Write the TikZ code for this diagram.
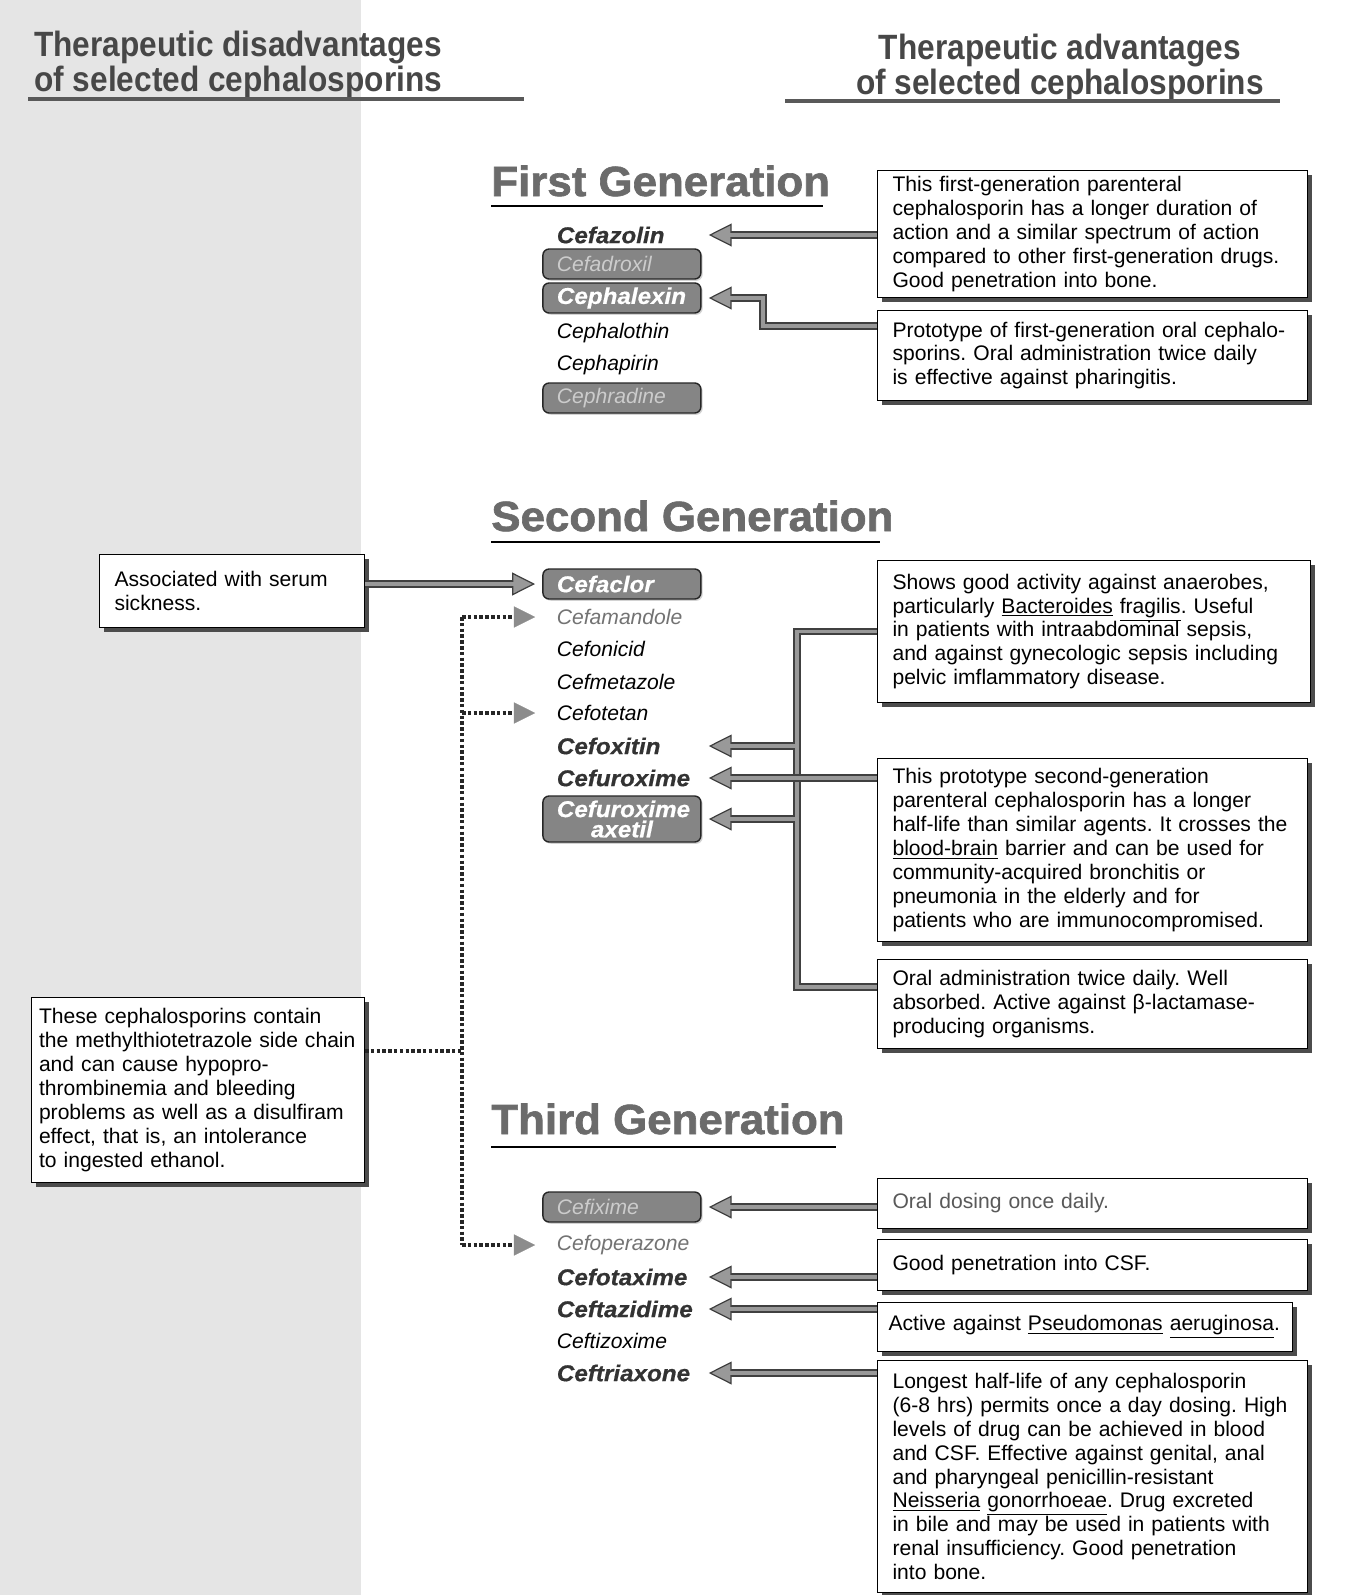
\documentclass[tikz,border=0pt]{standalone}
\usepackage{fontspec}
\setmainfont{Liberation Sans}
\newfontfamily\headfont[FakeStretch=0.9]{Liberation Sans}
\newfontfamily\genfont[FakeStretch=1.04,FakeBold=1.5]{Liberation Sans}
\newfontfamily\heavyfont[FakeStretch=1.06,FakeBold=0.6]{Liberation Sans}
\usetikzlibrary{arrows.meta,shadows}

\newcommand{\notefont}{\fontsize{12}{13.6}\selectfont\frenchspacing}
\newcommand{\drugplain}{\fontsize{12}{13}\selectfont\itshape}
\newcommand{\heavyitalic}{\heavyfont\bfseries\itshape\fontsize{13}{11.5}\selectfont}

\begin{document}
\begin{tikzpicture}[x=0.02cm,y=-0.02cm,
  note/.style={draw=black, line width=0.6pt, fill=white, anchor=north west, align=left,
    inner xsep=0.3cm, inner ysep=2pt, font=\notefont,
    drop shadow={shadow xshift=2.5pt,shadow yshift=-2.5pt,fill=black!70,opacity=1}},
  drug/.style={anchor=west, minimum width=3.16cm, minimum height=0.6cm, text width=2.6cm,
    inner xsep=0.28cm, inner ysep=1pt, outer xsep=4.5pt, align=left, font=\drugplain},
  drugheavy/.style={drug, font=\heavyitalic, text=black!80},
  druggray/.style={drug, text=black!55},
  drugbox/.style={drug, draw=black!85, fill=black!48, line width=0.8pt, rounded corners=3.5pt,
    drop shadow={shadow xshift=1pt,shadow yshift=-1pt,opacity=0.35}},
  drugboxlit/.style={drugbox, text=black!20},
  drugboxwhite/.style={drugbox, font=\heavyitalic, text=white},
  fatarrow/.style={draw=black!75, line width=4.5pt,
    -{Triangle[length=13pt,width=13pt,line width=0.7pt,fill=black!40]},
    postaction={draw=black!40, line width=2.2pt, -, shorten >=12pt}},
  fatline/.style={draw=black!75, line width=4.5pt, postaction={draw=black!40, line width=2.2pt}},
  dotbus/.style={draw=black!85, line width=2.6pt, dash pattern=on 2pt off 1.3pt},
  dotarrow/.style={dotbus, -{Triangle[length=12pt,width=12pt,line width=0.1pt,color=black!45]}},
  genhead/.style={anchor=base west, inner sep=0pt, text=black!58,
    font=\genfont\bfseries\fontsize{24}{24}\selectfont},
  colhead/.style={inner sep=0pt, text=black!72, font=\headfont\bfseries\fontsize{20}{17.5}\selectfont}
]
\useasboundingbox (0,0) rectangle (1348,1595);
\fill[white] (0,0) rectangle (1348,1595);
\fill[black!10] (0,0) rectangle (361,1595);

% column headings
\node[colhead, anchor=north west, align=left] (disadv) at (34,31)
  {Therapeutic disadvantages\\of selected cephalosporins};
\node[colhead, anchor=north, align=center] (adv) at (1060,34)
  {Therapeutic advantages\\of selected cephalosporins};
\draw[black!65, line width=2.6pt] (28,99) -- (524,99);
\draw[black!65, line width=2.6pt] (785,101) -- (1280,101);

% generations
\node[genhead] (gen1) at (491,196) {First Generation};
\draw[black, line width=1pt] (491,206) -- (823,206);
\node[genhead] (gen2) at (491,531) {Second Generation};
\draw[black, line width=1pt] (491,542) -- (880,542);
\node[genhead] (gen3) at (491,1134) {Third Generation};
\draw[black, line width=1pt] (491,1147) -- (836,1147);

% first generation drugs
\node[drugheavy] (cefazolin) at (535,235) {Cefazolin};
\node[drugboxlit] (cefadroxil) at (535,264) {Cefadroxil};
\node[drugboxwhite] (cephalexin) at (535,298) {Cephalexin};
\node[drug] (cephalothin) at (535,333) {Cephalothin};
\node[drug] (cephapirin) at (535,365) {Cephapirin};
\node[drugboxlit] (cephradine) at (535,398) {Cephradine};

% second generation drugs
\node[drugboxwhite] (cefaclor) at (535,584) {Cefaclor};
\node[druggray] (cefamandole) at (535,617) {Cefamandole};
\node[drug] (cefonicid) at (535,649) {Cefonicid};
\node[drug] (cefmetazole) at (535,682) {Cefmetazole};
\node[drug] (cefotetan) at (535,713) {Cefotetan};
\node[drugheavy] (cefoxitin) at (535,746) {Cefoxitin};
\node[drugheavy] (cefuroxime) at (535,778) {Cefuroxime};
\node[drugboxwhite, align=center, minimum height=0.92cm] (axetil) at (535,819) {Cefuroxime\\axetil};

% third generation drugs
\node[drugboxlit] (cefixime) at (535,1207) {Cefixime};
\node[druggray] (cefoperazone) at (535,1245) {Cefoperazone};
\node[drugheavy] (cefotaxime) at (535,1277) {Cefotaxime};
\node[drugheavy] (ceftazidime) at (535,1309) {Ceftazidime};
\node[drug] (ceftizoxime) at (535,1341) {Ceftizoxime};
\node[drugheavy] (ceftriaxone) at (535,1373) {Ceftriaxone};

% advantages
\node[note, text width=8cm, minimum height=2.54cm] (bone1) at (877,170)
  {This first-generation parenteral\\
   cephalosporin has a longer duration of\\
   action and a similar spectrum of action\\
   compared to other first-generation drugs.\\
   Good penetration into bone.};
\node[note, text width=8cm, minimum height=1.8cm] (oral1) at (877,310)
  {Prototype of first-generation oral cephalo-\\
   sporins. Oral administration twice daily\\
   is effective against pharingitis.};
\node[note, text width=8.06cm, minimum height=2.84cm] (anaer) at (877,560)
  {Shows good activity against anaerobes,\\
   particularly \underline{Bacteroides} \underline{fragilis}. Useful\\
   in patients with intraabdominal sepsis,\\
   and against gynecologic sepsis including\\
   pelvic imflammatory disease.};
\node[note, text width=8cm, minimum height=3.66cm] (proto2) at (877,758)
  {This prototype second-generation\\
   parenteral cephalosporin has a longer\\
   half-life than similar agents. It crosses the\\
   \underline{blood-brain} barrier and can be used for\\
   community-acquired bronchitis or\\
   pneumonia in the elderly and for\\
   patients who are immunocompromised.};
\node[note, text width=8cm, minimum height=1.78cm] (oral2) at (877,959)
  {Oral administration twice daily. Well\\
   absorbed. Active against β-lactamase-\\
   producing organisms.};
\node[note, text width=8cm, minimum height=1cm, text=black!65] (oral3) at (877,1178)
  {Oral dosing once daily.};
\node[note, text width=8cm, minimum height=1.02cm] (csf) at (877,1239)
  {Good penetration into CSF.};
\node[note, text width=7.86cm, inner xsep=0.22cm, minimum height=0.98cm] (pseud) at (877,1302)
  {Active against \underline{Pseudomonas} \underline{aeruginosa}.};
\node[note, text width=8cm, minimum height=4.64cm] (longest) at (877,1360)
  {Longest half-life of any cephalosporin\\
   (6-8 hrs) permits once a day dosing. High\\
   levels of drug can be achieved in blood\\
   and CSF. Effective against genital, anal\\
   and pharyngeal penicillin-resistant\\
   \underline{Neisseria} \underline{gonorrhoeae}. Drug excreted\\
   in bile and may be used in patients with\\
   renal insufficiency. Good penetration\\
   into bone.};

% disadvantages
\node[note, text width=4.7cm, minimum height=1.46cm] (serum) at (99,554)
  {Associated with serum\\ sickness.};
\node[note, text width=6.36cm, inner xsep=0.15cm, minimum height=3.7cm] (mtt) at (31,997)
  {These cephalosporins contain\\
   the methylthiotetrazole side chain\\
   and can cause hypopro-\\
   thrombinemia and bleeding\\
   problems as well as a disulfiram\\
   effect, that is, an intolerance\\
   to ingested ethanol.};

% first generation links
\draw[fatarrow] (cefazolin -| bone1.west) -- (cefazolin.east);
\draw[fatarrow] ([yshift=-9pt]oral1.north west) -| ([xshift=1.08cm]cephalexin.east) -- (cephalexin.east);

% second generation links
\coordinate (trunk) at (797,0);
\coordinate (trunkin) at (795,0);
\coordinate (oral2in) at ([yshift=-16pt]oral2.north west);
\draw[fatline] (anaer.west) -| (trunk |- oral2in) -- (oral2in);
\draw[fatarrow] (trunkin |- cefoxitin) -- (cefoxitin.east);
\draw[fatarrow] (trunkin |- axetil) -- (axetil.east);
\draw[fatarrow] (cefuroxime -| proto2.west) -- (cefuroxime.east);
\draw[fatarrow] (serum.east |- cefaclor) -- (cefaclor.west);

\coordinate (bus) at (462,1051);
\draw[dotbus] (mtt.east |- bus) -- (bus);
\draw[dotbus] (bus |- cefamandole) -- (bus |- cefoperazone);
\draw[dotarrow] (bus |- cefamandole) -- (cefamandole.west);
\draw[dotarrow] (bus |- cefotetan) -- (cefotetan.west);
\draw[dotarrow] (bus |- cefoperazone) -- (cefoperazone.west);

% third generation links
\draw[fatarrow] (cefixime -| oral3.west) -- (cefixime.east);
\draw[fatarrow] (cefotaxime -| csf.west) -- (cefotaxime.east);
\draw[fatarrow] (ceftazidime -| pseud.west) -- (ceftazidime.east);
\draw[fatarrow] (ceftriaxone -| longest.west) -- (ceftriaxone.east);
\end{tikzpicture}
\end{document}
